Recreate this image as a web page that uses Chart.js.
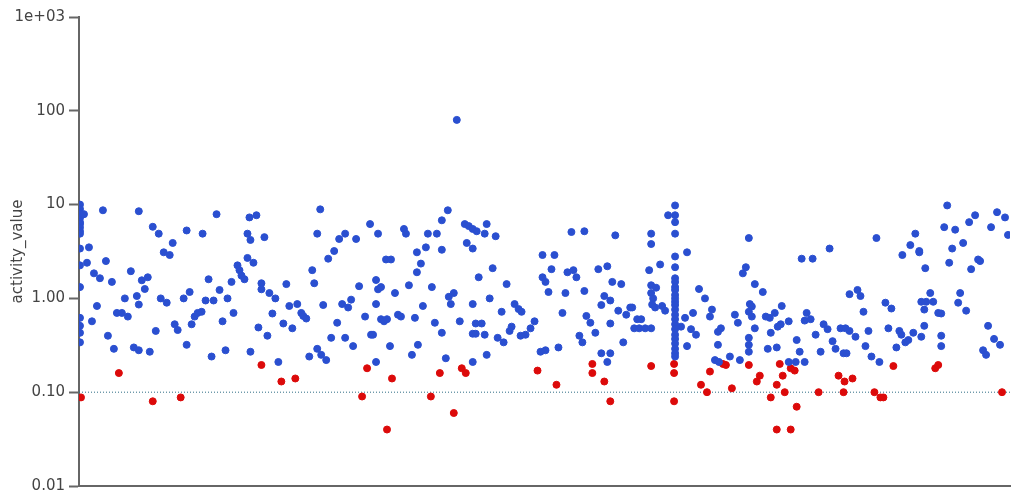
<!DOCTYPE html>
<html>
<head>
<meta charset="utf-8">
<script src="https://cdn.jsdelivr.net/npm/chart.js@4"></script>
<style>
  html, body { margin: 0; padding: 0; background: #fff; }
  #wrap { width: 1015px; height: 499px; }
</style>
</head>
<body>
<div id="wrap"><canvas id="chart"></canvas></div>
<script>
// x = compound order in the set, y = activity_value (log)
const activeIdx = [
  2,2,2,2,2,2,2,2,2,2,2,2,2,2,2,2,2,
  6,25,61,139,75,81,109,125,95,86,92,11,9,28,16,22,34,53,64,70,
  67,59,47,61,83,89,106,112,131,142,128,136,150,19,39,44,50,14,30,36,
  56,61,72,78,97,100,109,114,117,120,124,134,145,148,
  172,179,170,173,187,170,176,160,162,164,167,154,156,184,184,192,198,209,195,181,
  190,206,212,220,215,224,226,229,173,201,232,240,244,249,235,237,243,240,251,257,
  246,254,260,265,271,274,262,268,279,268,276,282,288,293,301,309,314,299,301,304,
  299,294,296,304,307,310,299,313,
  380,371,365,327,329,351,360,388,392,396,400,410,408,419,390,396,365,349,340,344,
  340,332,318,355,402,416,430,466,478,475,466,469,472,377,372,374,346,321,324,338,
  396,413,425,438,442,445,358,383,399,405,396,399,408,365,435,433,444,449,454,458,
  421,427,341,335,369,396,410,464,469,482,
  495,508,539,491,497,500,489,486,508,522,531,536,545,528,525,534,542,510,514,534,
  519,503,506,547,525,534,531,550,554,556,561,565,558,563,569,575,575,575,573,584,
  575,580,575,577,576,579,586,589,592,
  599,599,599,599,599,599,599,599,599,599,599,599,599,599,599,599,599,599,599,599,599,599,599,599,599,
  611,605,609,611,615,617,620,623,629,636,634,642,645,642,639,643,
  673,726,737,754,801,670,667,679,687,674,676,673,676,659,662,679,690,694,699,706,
  702,705,713,695,673,673,673,692,701,664,654,721,724,713,720,729,731,729,735,740,
  745,748,752,757,760,765,770,774,780,768,771,774,782,785,788,793,790,796,804,
  872,869,880,840,835,844,844,827,850,877,888,874,894,900,922,930,916,933,903,905,
  896,855,858,851,846,849,863,866,885,883,891,810,816,813,824,826,830,833,838,849,
  846,866,866,821,913,919,925,908,911
];
const activeVal = [
  10,9.0,8.2,7.9,7.2,6.5,6.2,5.7,5.2,4.9,3.4,2.25,1.32,0.62,0.51,0.43,0.34,
  7.9,8.7,8.5,7.9,5.8,4.9,5.3,4.9,3.9,3.1,2.9,3.5,2.4,2.5,1.85,1.64,1.5,1.95,1.56,1.68,
  1.26,1.06,1.0,0.86,1.0,0.9,1.0,1.17,1.6,1.23,0.95,0.95,1.0,0.83,0.7,0.7,0.64,0.57,0.4,0.29,
  0.3,0.28,0.27,0.45,0.53,0.46,0.32,0.53,0.64,0.7,0.72,0.24,0.57,0.28,
  7.3,7.7,4.9,4.2,4.5,2.7,2.4,2.25,2.0,1.75,1.6,1.5,0.7,1.45,1.25,1.14,1.0,1.42,0.69,0.49,
  0.4,0.54,0.83,0.87,0.48,0.7,0.65,0.61,0.27,0.21,0.24,0.29,0.25,0.22,2.0,1.45,8.9,4.9,2.65,3.2,
  0.85,0.38,0.55,0.87,0.8,0.97,4.3,4.9,4.3,0.38,0.31,1.35,0.64,6.2,4.9,2.6,2.6,1.57,1.25,1.32,
  0.87,0.41,0.41,0.6,0.57,0.6,0.21,0.31,
  80,8.7,6.8,5.5,4.9,4.9,4.9,6.2,5.9,5.5,5.2,6.2,4.9,4.6,3.9,3.4,3.3,3.5,3.1,2.35,
  1.9,1.38,1.14,1.32,1.68,2.1,1.42,2.9,2.9,2.05,1.68,1.5,1.17,1.14,1.04,0.87,0.83,0.67,0.64,0.62,
  0.87,1.0,0.72,0.87,0.77,0.72,0.55,0.57,0.54,0.54,0.42,0.42,0.41,0.43,0.5,0.45,0.4,0.41,0.48,0.57,
  0.38,0.34,0.32,0.25,0.23,0.21,0.25,0.27,0.28,0.3,
  5.1,5.2,4.7,1.9,2.0,1.68,1.14,0.7,1.2,2.05,2.2,1.5,1.42,1.06,0.85,0.95,0.74,0.65,0.55,0.54,
  0.43,0.4,0.34,0.34,0.26,0.26,0.21,0.67,0.8,0.8,0.6,0.6,0.48,0.48,0.48,0.48,4.9,3.8,2.0,2.3,
  1.38,1.3,1.14,1.0,0.86,0.8,0.83,0.74,7.7,
  9.8,7.7,6.5,4.9,2.8,2.15,1.64,1.5,1.32,1.23,1.09,1.0,0.92,0.85,0.76,0.67,0.6,0.53,0.47,0.41,0.37,0.33,0.29,0.26,0.24,
  3.1,0.5,0.62,0.31,0.47,0.7,0.41,1.26,1.0,0.76,0.64,0.44,0.48,0.32,0.22,0.21,
  4.4,2.65,2.65,3.4,4.4,2.15,1.85,1.42,1.17,0.87,0.82,0.72,0.64,0.67,0.55,0.48,0.64,0.62,0.7,0.83,
  0.5,0.53,0.57,0.43,0.38,0.32,0.27,0.29,0.3,0.22,0.24,0.36,0.27,0.21,0.21,0.21,0.7,0.58,0.6,0.41,
  0.27,0.53,0.47,0.35,0.29,0.48,0.48,0.45,0.39,0.26,0.26,1.11,1.23,1.06,0.72,0.45,0.31,0.24,0.21,
  9.8,5.75,5.4,4.9,3.7,3.2,3.1,2.9,2.1,3.4,3.9,2.4,6.5,7.7,8.3,7.3,5.75,4.75,2.6,2.5,
  2.05,1.14,0.92,0.92,0.92,0.76,0.7,0.69,1.14,0.9,0.74,0.9,0.78,0.48,0.45,0.41,0.34,0.36,0.43,0.51,
  0.39,0.4,0.31,0.3,0.51,0.37,0.32,0.28,0.25
];
const inactiveIdx = [
  3,41,75,103,184,204,218,290,285,315,310,363,385,389,461,480,354,377,
  516,516,528,534,575,598,598,598,625,631,634,
  647,650,673,656,684,681,704,707,701,695,709,715,719,721,701,715,743,763,769,777,768,799,805,
  818,860,863,808,927
];
const inactiveVal = [
  0.088,0.16,0.08,0.088,0.195,0.13,0.14,0.18,0.09,0.14,0.04,0.16,0.18,0.16,0.17,0.12,0.09,0.06,
  0.2,0.16,0.13,0.08,0.19,0.2,0.16,0.08,0.12,0.1,0.166,
  0.2,0.195,0.195,0.11,0.15,0.13,0.2,0.15,0.12,0.088,0.1,0.18,0.17,0.07,0.04,0.04,0.1,0.15,0.13,0.14,0.1,0.1,0.088,
  0.19,0.18,0.195,0.088,0.1
];
const cutoff = 0.1;
const yTickValues = [0.01, 0.1, 1, 10, 100, 1000];
const yTickLabels = ['0.01', '0.10', '1.00', '10', '100', '1e+03'];
const xMin = 1, xMax = 935;

const toPoints = (xs, ys) => xs.map((x, i) => ({ x: x, y: ys[i] }));
const axisFont = { family: 'DejaVu Sans', size: 15 };

new Chart(document.getElementById('chart'), {
  type: 'scatter',
  data: {
    datasets: [
      {
        label: 'active',
        data: toPoints(activeIdx, activeVal),
        backgroundColor: '#2a4fd0',
        borderColor: '#2a4fd0',
        borderWidth: 1,
        pointRadius: 3.5,
        order: 1
      },
      {
        label: 'inactive',
        data: toPoints(inactiveIdx, inactiveVal),
        backgroundColor: '#dc0a0a',
        borderColor: '#dc0a0a',
        borderWidth: 1,
        pointRadius: 3.5,
        order: 1
      },
      {
        // threshold line
        type: 'line',
        label: 'cutoff',
        data: [{ x: xMin, y: cutoff }, { x: xMax, y: cutoff }],
        borderColor: '#2f6d86',
        borderWidth: 1,
        borderDash: [1, 2],
        pointRadius: 0,
        fill: false,
        order: 3
      }
    ]
  },
  options: {
    responsive: true,
    maintainAspectRatio: false,
    animation: false,
    layout: { padding: { top: 17, right: 2, left: 0, bottom: 0 } },
    plugins: {
      legend: { display: false },
      tooltip: { enabled: false }
    },
    scales: {
      x: {
        type: 'linear',
        min: xMin,
        max: xMax,
        ticks: { display: false },
        grid: { display: false, drawTicks: false },
        border: { color: '#666', width: 2 },
        afterFit: s => { s.height = 6; }
      },
      y: {
        type: 'logarithmic',
        min: 0.01,
        max: 1000,
        afterBuildTicks: s => { s.ticks = yTickValues.map(v => ({ value: v })); },
        afterFit: s => { s.width = 79; },
        ticks: {
          autoSkip: false,
          padding: 4,
          color: '#444',
          font: axisFont,
          callback: v => yTickLabels[yTickValues.indexOf(v)]
        },
        grid: { drawOnChartArea: false, tickLength: 10, tickColor: '#666', tickWidth: 2 },
        border: { color: '#666', width: 2 },
        title: {
          display: true,
          text: 'activity_value',
          color: '#444',
          font: axisFont,
          padding: { top: 9, bottom: 0 }
        }
      }
    }
  }
});
</script>
</body>
</html>
